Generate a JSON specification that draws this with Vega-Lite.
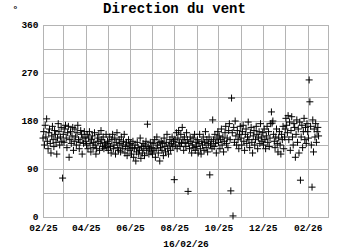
{
  "$schema": "https://vega.github.io/schema/vega-lite/v6.json",
  "autosize": "none",
  "width": 285,
  "height": 192,
  "padding": {"left": 43, "top": 25, "right": 22, "bottom": 33},
  "background": "white",
  "title": {"text": "Direction du vent", "font": "Liberation Mono", "fontSize": 14, "fontWeight": "bold", "color": "black", "anchor": "middle", "dx": -11, "offset": -13},
  "config": {
    "view": {"stroke": "#aaaaaa", "strokeWidth": 1},
    "axis": {"labelFont": "Liberation Mono", "labelFontSize": 9.5, "labelFontWeight": "bold", "labelColor": "black", "titleFont": "Liberation Mono", "titleFontSize": 9.5, "titleFontWeight": "bold", "titleColor": "black", "gridColor": "#b4b4b4", "gridWidth": 1, "gridOpacity": 1, "domain": false, "ticks": false}
  },
  "data": {
    "format": {"type": "csv", "parse": {"v": "number"}},
    "values": "d,v\n2025-02-01,148\n2025-02-02,160\n2025-02-03,135\n2025-02-04,172\n2025-02-05,150\n2025-02-06,184\n2025-02-07,142\n2025-02-08,128\n2025-02-09,158\n2025-02-10,165\n2025-02-11,138\n2025-02-12,120\n2025-02-13,152\n2025-02-14,170\n2025-02-15,145\n2025-02-16,132\n2025-02-17,162\n2025-02-18,155\n2025-02-19,140\n2025-02-20,118\n2025-02-21,148\n2025-02-22,175\n2025-02-23,160\n2025-02-24,135\n2025-02-25,150\n2025-02-26,168\n2025-02-27,142\n2025-02-28,73\n2025-03-01,155\n2025-03-02,140\n2025-03-03,165\n2025-03-04,172\n2025-03-05,148\n2025-03-06,130\n2025-03-07,158\n2025-03-08,170\n2025-03-09,112\n2025-03-10,145\n2025-03-11,160\n2025-03-12,138\n2025-03-13,152\n2025-03-14,168\n2025-03-15,125\n2025-03-16,142\n2025-03-17,165\n2025-03-18,150\n2025-03-19,135\n2025-03-20,158\n2025-03-21,172\n2025-03-22,145\n2025-03-23,128\n2025-03-24,140\n2025-03-25,162\n2025-03-26,155\n2025-03-27,118\n2025-03-28,148\n2025-03-29,138\n2025-03-30,160\n2025-03-31,150\n2025-04-01,142\n2025-04-02,135\n2025-04-03,155\n2025-04-04,128\n2025-04-05,148\n2025-04-06,160\n2025-04-07,138\n2025-04-08,122\n2025-04-09,145\n2025-04-10,152\n2025-04-11,130\n2025-04-12,140\n2025-04-13,158\n2025-04-14,135\n2025-04-15,118\n2025-04-16,128\n2025-04-17,148\n2025-04-18,142\n2025-04-19,155\n2025-04-20,125\n2025-04-21,138\n2025-04-22,162\n2025-04-23,145\n2025-04-24,132\n2025-04-25,150\n2025-04-26,128\n2025-04-27,140\n2025-04-28,135\n2025-04-29,155\n2025-04-30,130\n2025-05-01,142\n2025-05-02,125\n2025-05-03,138\n2025-05-04,150\n2025-05-05,132\n2025-05-06,120\n2025-05-07,145\n2025-05-08,155\n2025-05-09,128\n2025-05-10,135\n2025-05-11,148\n2025-05-12,118\n2025-05-13,140\n2025-05-14,158\n2025-05-15,130\n2025-05-16,125\n2025-05-17,145\n2025-05-18,138\n2025-05-19,122\n2025-05-20,150\n2025-05-21,135\n2025-05-22,128\n2025-05-23,142\n2025-05-24,155\n2025-05-25,120\n2025-05-26,132\n2025-05-27,140\n2025-05-28,115\n2025-05-29,128\n2025-05-30,145\n2025-05-31,135\n2025-06-01,125\n2025-06-02,138\n2025-06-03,118\n2025-06-04,130\n2025-06-05,142\n2025-06-06,112\n2025-06-07,128\n2025-06-08,135\n2025-06-09,105\n2025-06-10,122\n2025-06-11,140\n2025-06-12,130\n2025-06-13,118\n2025-06-14,125\n2025-06-15,148\n2025-06-16,110\n2025-06-17,132\n2025-06-18,120\n2025-06-19,138\n2025-06-20,128\n2025-06-21,115\n2025-06-22,135\n2025-06-23,142\n2025-06-24,125\n2025-06-25,174\n2025-06-26,132\n2025-06-27,118\n2025-06-28,128\n2025-06-29,140\n2025-06-30,122\n2025-07-01,130\n2025-07-02,118\n2025-07-03,138\n2025-07-04,125\n2025-07-05,145\n2025-07-06,112\n2025-07-07,128\n2025-07-08,150\n2025-07-09,135\n2025-07-10,120\n2025-07-11,140\n2025-07-12,105\n2025-07-13,130\n2025-07-14,142\n2025-07-15,125\n2025-07-16,138\n2025-07-17,115\n2025-07-18,148\n2025-07-19,132\n2025-07-20,122\n2025-07-21,140\n2025-07-22,155\n2025-07-23,128\n2025-07-24,118\n2025-07-25,135\n2025-07-26,145\n2025-07-27,125\n2025-07-28,138\n2025-07-29,150\n2025-07-30,132\n2025-07-31,142\n2025-08-01,70\n2025-08-02,145\n2025-08-03,135\n2025-08-04,158\n2025-08-05,128\n2025-08-06,148\n2025-08-07,162\n2025-08-08,140\n2025-08-09,132\n2025-08-10,155\n2025-08-11,138\n2025-08-12,168\n2025-08-13,145\n2025-08-14,125\n2025-08-15,150\n2025-08-16,140\n2025-08-17,132\n2025-08-18,158\n2025-08-19,145\n2025-08-20,48\n2025-08-21,138\n2025-08-22,128\n2025-08-23,150\n2025-08-24,142\n2025-08-25,120\n2025-08-26,135\n2025-08-27,148\n2025-08-28,130\n2025-08-29,155\n2025-08-30,125\n2025-08-31,140\n2025-09-01,132\n2025-09-02,145\n2025-09-03,120\n2025-09-04,138\n2025-09-05,155\n2025-09-06,128\n2025-09-07,118\n2025-09-08,142\n2025-09-09,135\n2025-09-10,150\n2025-09-11,125\n2025-09-12,140\n2025-09-13,160\n2025-09-14,130\n2025-09-15,145\n2025-09-16,122\n2025-09-17,138\n2025-09-18,150\n2025-09-19,79\n2025-09-20,135\n2025-09-21,142\n2025-09-22,128\n2025-09-23,182\n2025-09-24,145\n2025-09-25,132\n2025-09-26,155\n2025-09-27,138\n2025-09-28,120\n2025-09-29,148\n2025-09-30,160\n2025-10-01,140\n2025-10-02,152\n2025-10-03,128\n2025-10-04,145\n2025-10-05,165\n2025-10-06,135\n2025-10-07,150\n2025-10-08,122\n2025-10-09,142\n2025-10-10,158\n2025-10-11,170\n2025-10-12,138\n2025-10-13,148\n2025-10-14,130\n2025-10-15,162\n2025-10-16,175\n2025-10-17,145\n2025-10-18,49\n2025-10-19,223\n2025-10-20,158\n2025-10-21,2\n2025-10-22,168\n2025-10-23,140\n2025-10-24,180\n2025-10-25,152\n2025-10-26,135\n2025-10-27,162\n2025-10-28,145\n2025-10-29,128\n2025-10-30,155\n2025-10-31,170\n2025-11-01,148\n2025-11-02,135\n2025-11-03,160\n2025-11-04,172\n2025-11-05,142\n2025-11-06,125\n2025-11-07,155\n2025-11-08,165\n2025-11-09,138\n2025-11-10,150\n2025-11-11,178\n2025-11-12,145\n2025-11-13,130\n2025-11-14,158\n2025-11-15,168\n2025-11-16,140\n2025-11-17,120\n2025-11-18,152\n2025-11-19,162\n2025-11-20,135\n2025-11-21,145\n2025-11-22,170\n2025-11-23,155\n2025-11-24,128\n2025-11-25,148\n2025-11-26,160\n2025-11-27,138\n2025-11-28,175\n2025-11-29,150\n2025-11-30,142\n2025-12-01,158\n2025-12-02,135\n2025-12-03,165\n2025-12-04,145\n2025-12-05,128\n2025-12-06,152\n2025-12-07,170\n2025-12-08,140\n2025-12-09,160\n2025-12-10,132\n2025-12-11,148\n2025-12-12,175\n2025-12-13,197\n2025-12-14,176\n2025-12-15,180\n2025-12-16,155\n2025-12-17,142\n2025-12-18,130\n2025-12-19,150\n2025-12-20,165\n2025-12-21,138\n2025-12-22,122\n2025-12-23,148\n2025-12-24,160\n2025-12-25,135\n2025-12-26,118\n2025-12-27,155\n2025-12-28,145\n2025-12-29,170\n2025-12-30,128\n2025-12-31,150\n2026-01-01,165\n2026-01-02,185\n2026-01-03,172\n2026-01-04,158\n2026-01-05,190\n2026-01-06,145\n2026-01-07,178\n2026-01-08,125\n2026-01-09,162\n2026-01-10,188\n2026-01-11,150\n2026-01-12,135\n2026-01-13,175\n2026-01-14,168\n2026-01-15,112\n2026-01-16,155\n2026-01-17,182\n2026-01-18,140\n2026-01-19,165\n2026-01-20,120\n2026-01-21,178\n2026-01-22,69\n2026-01-23,150\n2026-01-24,172\n2026-01-25,130\n2026-01-26,160\n2026-01-27,185\n2026-01-28,145\n2026-01-29,168\n2026-01-30,138\n2026-01-31,175\n2026-02-01,160\n2026-02-02,148\n2026-02-03,257\n2026-02-04,216\n2026-02-05,170\n2026-02-06,135\n2026-02-07,56\n2026-02-08,182\n2026-02-09,122\n2026-02-10,165\n2026-02-11,150\n2026-02-12,175\n2026-02-13,140\n2026-02-14,160\n2026-02-15,168\n2026-02-16,152\n"
  },
  "mark": {"type": "point", "shape": "M-1,0H1M0,-1V1", "filled": false, "stroke": "black", "strokeWidth": 1, "size": 49, "opacity": 1, "clip": false},
  "encoding": {
    "x": {
      "field": "d", "type": "temporal",
      "scale": {"type": "utc", "domain": [{"year": 2025, "month": 2, "date": 1, "utc": true}, {"year": 2026, "month": 3, "date": 1, "utc": true}], "nice": false},
      "axis": {"title": "16/02/26", "titlePadding": 7, "tickCount": {"interval": "month", "step": 1}, "labelExpr": "utcmonth(datum.value) % 2 == 1 ? utcFormat(datum.value, '%m/%y') : ''", "labelFlush": false, "labelOverlap": false, "labelPadding": 5}
    },
    "y": {
      "field": "v", "type": "quantitative",
      "scale": {"domain": [0, 360], "nice": false, "zero": true},
      "axis": {"title": "°", "titleAngle": 0, "titleX": -31, "titleY": -22, "titleAlign": "left", "titleBaseline": "top", "values": [0, 45, 90, 135, 180, 225, 270, 315, 360], "labelExpr": "datum.value % 90 == 0 ? datum.label : ''", "labelPadding": 5, "labelOffset": -1, "labelOverlap": false}
    }
  }
}
